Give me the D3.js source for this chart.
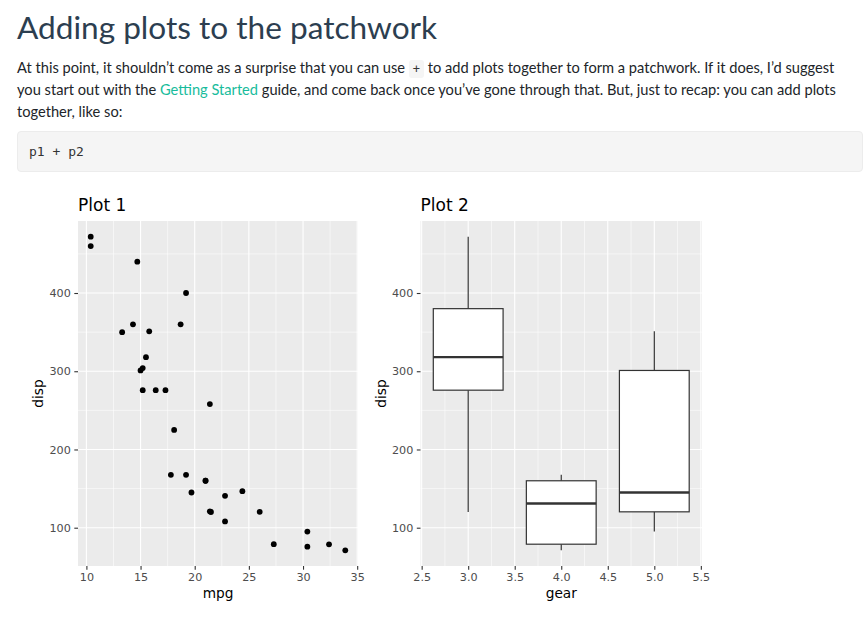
<!DOCTYPE html>
<html>
<head>
<meta charset="utf-8">
<script src="https://cdn.jsdelivr.net/npm/d3@7/dist/d3.min.js"></script>
<style>
  html, body { margin: 0; padding: 0; background: #fff; }
  body { width: 868px; height: 618px; position: relative; overflow: hidden; }
  .h1 { position: absolute; left: 17px; top: 5px; font-family: Lato, sans-serif; font-size: 31.6px; font-weight: 400; color: #2c3e50; white-space: nowrap; line-height: 44px; }
  .p { position: absolute; left: 17px; font-family: Lato, sans-serif; font-size: 14.65px; color: #212529; white-space: nowrap; line-height: 22px; }
  .ic { font-family: "DejaVu Sans Mono", monospace; font-size: 12px; background: #f5f5f5; border-radius: 3px; padding: 2px 4px; color: #333; }
  a { color: #18bc9c; text-decoration: none; }
  .pre { position: absolute; left: 17px; top: 131px; width: 846px; height: 41px; background: #f5f5f5; border: 1px solid #ececec; border-radius: 4px; box-sizing: border-box; }
  .pre span { position: absolute; left: 11px; top: 12px; font-family: "DejaVu Sans Mono", monospace; font-size: 13px; color: #333; white-space: pre; }
  svg { position: absolute; left: 0; top: 0; }
</style>
</head>
<body>
<div class="h1">Adding plots to the patchwork</div>
<div class="p" style="top:57px">At this point, it shouldn’t come as a surprise that you can use <span class="ic">+</span> to add plots together to form a patchwork. If it does, I’d suggest</div>
<div class="p" style="top:79px">you start out with the <a>Getting Started</a> guide, and come back once you’ve gone through that. But, just to recap: you can add plots</div>
<div class="p" style="top:101px">together, like so:</div>
<div class="pre"><span>p1 + p2</span></div>
<svg id="chart" width="868" height="618"></svg>
<script>
// ---- Data (mtcars) ----
const mpg  = [21.0,21.0,22.8,21.4,18.7,18.1,14.3,24.4,22.8,19.2,17.8,16.4,17.3,15.2,10.4,10.4,14.7,32.4,30.4,33.9,21.5,15.5,15.2,13.3,19.2,27.3,26.0,30.4,15.8,19.7,15.0,21.4];
const disp = [160,160,108,258,360,225,360,146.7,140.8,167.6,167.6,275.8,275.8,275.8,472,460,440,78.7,75.7,71.1,120.1,318,304,350,400,79,120.3,95.1,351,145,301,121];

// Boxplot summaries for disp by gear
const boxGear   = [3, 4, 5];
const boxLower  = [120.1, 71.1, 95.1];
const boxQ1     = [275.8, 78.925, 120.3];
const boxMedian = [318, 130.9, 145];
const boxQ3     = [380, 160, 301];
const boxUpper  = [472, 167.6, 351];

const xTicks1 = [10, 15, 20, 25, 30, 35];
const xMinor1 = [12.5, 17.5, 22.5, 27.5, 32.5];
const xTicks2 = [2.5, 3.0, 3.5, 4.0, 4.5, 5.0, 5.5];
const xMinor2 = [2.75, 3.25, 3.75, 4.25, 4.75, 5.25];
const yTicks  = [100, 200, 300, 400];
const yMinor  = [150, 250, 350, 450];

const svg = d3.select("#chart");
const pTop = 221, pBottom = 566;
const FONT = "DejaVu Sans, sans-serif";

function expand(lo, hi) { const d = (hi - lo) * 0.05; return [lo - d, hi + d]; }

const yDom = expand(d3.min(disp), d3.max(disp));

function panel(opts) {
  const { left, right, xDomain, xTicks, xMinor, xFmt, title, xTitle, yTitle } = opts;
  const x = d3.scaleLinear().domain(xDomain).range([left, right]);
  const y = d3.scaleLinear().domain(yDom).range([pBottom, pTop]);
  const g = svg.append("g");
  g.append("rect").attr("x", left).attr("y", pTop).attr("width", right - left).attr("height", pBottom - pTop).attr("fill", "#ebebeb");
  g.selectAll(".ym").data(yMinor).join("line").attr("x1", left).attr("x2", right)
    .attr("y1", d => y(d)).attr("y2", d => y(d)).attr("stroke", "#fff").attr("stroke-width", 0.55);
  g.selectAll(".xm").data(xMinor).join("line").attr("y1", pTop).attr("y2", pBottom)
    .attr("x1", d => x(d)).attr("x2", d => x(d)).attr("stroke", "#fff").attr("stroke-width", 0.55);
  g.selectAll(".yM").data(yTicks).join("line").attr("x1", left).attr("x2", right)
    .attr("y1", d => y(d)).attr("y2", d => y(d)).attr("stroke", "#fff").attr("stroke-width", 1.1);
  g.selectAll(".xM").data(xTicks).join("line").attr("y1", pTop).attr("y2", pBottom)
    .attr("x1", d => x(d)).attr("x2", d => x(d)).attr("stroke", "#fff").attr("stroke-width", 1.1);

  const yAxis = d3.axisLeft(y).tickValues(yTicks).tickSize(3.7).tickPadding(3.5);
  const ya = g.append("g").attr("transform", `translate(${left},0)`).call(yAxis);
  const xAxis = d3.axisBottom(x).tickValues(xTicks).tickSize(3.7).tickPadding(3.0).tickFormat(xFmt);
  const xa = g.append("g").attr("transform", `translate(0,${pBottom})`).call(xAxis);
  [ya, xa].forEach(a => {
    a.select(".domain").remove();
    a.selectAll(".tick line").attr("stroke", "#333333").attr("stroke-width", 1.1);
    a.selectAll(".tick text").attr("fill", "#4d4d4d").style("font-family", FONT).style("font-size", "11.2px");
  });

  g.append("text").attr("x", left).attr("y", 211).text(title)
    .style("font-family", FONT).style("font-size", "17px").attr("fill", "#000");
  g.append("text").attr("x", (left + right) / 2).attr("y", 598).attr("text-anchor", "middle").text(xTitle)
    .style("font-family", FONT).style("font-size", "13.7px").attr("fill", "#000");
  g.append("text").attr("transform", `translate(${left - 35},${(pTop + pBottom) / 2}) rotate(-90)`)
    .attr("text-anchor", "middle").text(yTitle)
    .style("font-family", FONT).style("font-size", "13.7px").attr("fill", "#000");
  return { g, x, y };
}

// Plot 1: scatter
const p1 = panel({ left: 78, right: 358, xDomain: expand(d3.min(mpg), d3.max(mpg)), xTicks: xTicks1, xMinor: xMinor1,
  xFmt: d3.format("d"), title: "Plot 1", xTitle: "mpg", yTitle: "disp" });
p1.g.selectAll(".pt").data(mpg.map((m, i) => [m, disp[i]])).join("circle")
  .attr("cx", d => p1.x(d[0])).attr("cy", d => p1.y(d[1])).attr("r", 2.9).attr("fill", "#000");

// Plot 2: boxplot
const bw = 0.75;
const p2 = panel({ left: 420.5, right: 702, xDomain: expand(d3.min(boxGear) - bw / 2, d3.max(boxGear) + bw / 2),
  xTicks: xTicks2, xMinor: xMinor2, xFmt: d3.format(".1f"), title: "Plot 2", xTitle: "gear", yTitle: "disp" });
const boxes = boxGear.map((gx, i) => ({ gx, lo: boxLower[i], q1: boxQ1[i], md: boxMedian[i], q3: boxQ3[i], hi: boxUpper[i] }));
const bg = p2.g.selectAll(".box").data(boxes).join("g");
bg.append("line").attr("x1", d => p2.x(d.gx)).attr("x2", d => p2.x(d.gx))
  .attr("y1", d => p2.y(d.q3)).attr("y2", d => p2.y(d.hi)).attr("stroke", "#333333").attr("stroke-width", 1.2);
bg.append("line").attr("x1", d => p2.x(d.gx)).attr("x2", d => p2.x(d.gx))
  .attr("y1", d => p2.y(d.q1)).attr("y2", d => p2.y(d.lo)).attr("stroke", "#333333").attr("stroke-width", 1.2);
bg.append("rect").attr("x", d => p2.x(d.gx - bw / 2)).attr("width", d => p2.x(d.gx + bw / 2) - p2.x(d.gx - bw / 2))
  .attr("y", d => p2.y(d.q3)).attr("height", d => p2.y(d.q1) - p2.y(d.q3))
  .attr("fill", "#fff").attr("stroke", "#333333").attr("stroke-width", 1.2);
bg.append("line").attr("x1", d => p2.x(d.gx - bw / 2)).attr("x2", d => p2.x(d.gx + bw / 2))
  .attr("y1", d => p2.y(d.md)).attr("y2", d => p2.y(d.md)).attr("stroke", "#333333").attr("stroke-width", 2.4);
</script>
</body>
</html>
